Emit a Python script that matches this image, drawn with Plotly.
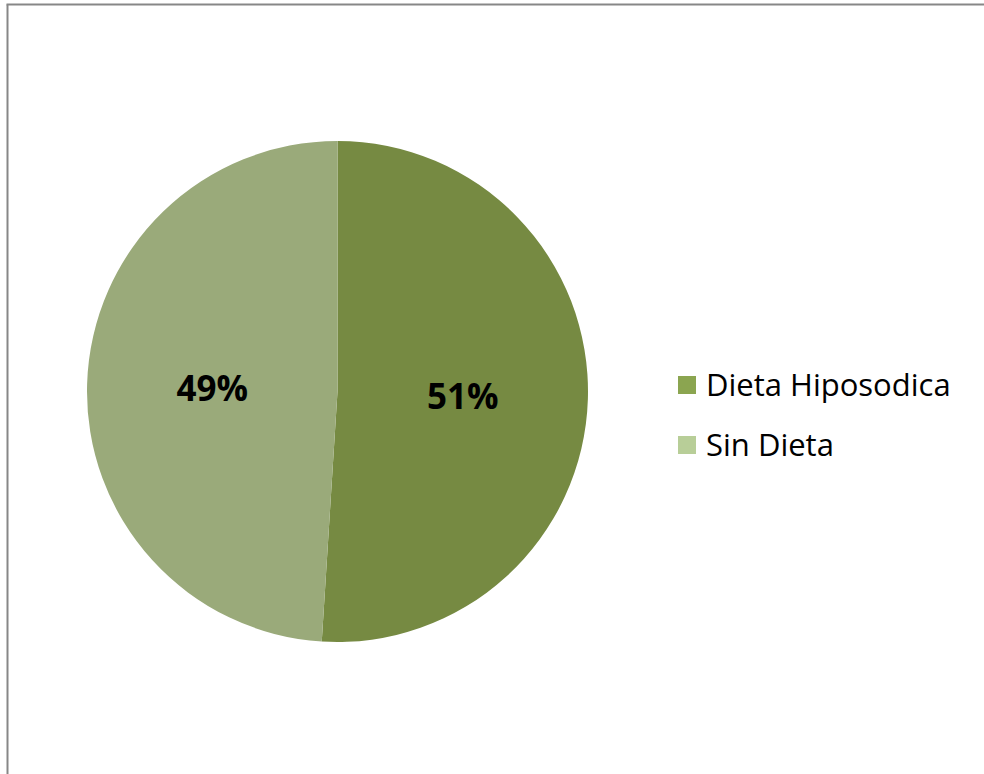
import plotly.graph_objects as go

categories = ["Dieta Hiposodica", "Sin Dieta"]
values = [51, 49]
slice_colors = ["#768A42", "#9AAA7A"]
legend_colors = ["#8BA550", "#B8CE98"]

W, H = 984, 774

fig = go.Figure()
fig.add_trace(go.Pie(
    labels=categories,
    values=values,
    sort=False,
    direction="clockwise",
    rotation=0,
    marker=dict(colors=slice_colors, line=dict(width=0)),
    texttemplate="<b>%{percent:.0%}</b>",
    textposition="inside",
    insidetextorientation="horizontal",
    textfont=dict(family="Open Sans", size=35, color="black"),
    domain=dict(x=[87 / W, 588 / W], y=[(H - 642) / H, (H - 141) / H]),
    showlegend=False,
    hoverinfo="label+percent",
))

# border of chart area (top and left edges visible)
fig.add_shape(type="line", xref="paper", yref="paper",
              x0=6.5 / W, x1=1.0, y0=1 - 4.5 / H, y1=1 - 4.5 / H,
              line=dict(color="#878787", width=2))
fig.add_shape(type="line", xref="paper", yref="paper",
              x0=7.5 / W, x1=7.5 / W, y0=0, y1=1 - 4.5 / H,
              line=dict(color="#878787", width=2))

# manual legend
rows_y = [385, 445]
for cat, col, yc in zip(categories, legend_colors, rows_y):
    fig.add_shape(type="rect", xref="paper", yref="paper",
                  x0=678 / W, x1=696 / W, y0=1 - (yc + 9) / H, y1=1 - (yc - 9) / H,
                  line=dict(width=0), fillcolor=col)
    fig.add_annotation(xref="paper", yref="paper", x=704 / W, y=1 - (yc - 1) / H,
                       text=cat, showarrow=False, xanchor="left", yanchor="middle",
                       font=dict(family="Open Sans", size=31, color="black"))

fig.update_layout(
    width=W, height=H,
    margin=dict(l=0, r=0, t=0, b=0),
    paper_bgcolor="white",
    plot_bgcolor="white",
)

fig.write_html("out.html",
               config={"displayModeBar": False},
               post_script="document.body.style.margin='0';document.body.style.overflow='hidden';")
